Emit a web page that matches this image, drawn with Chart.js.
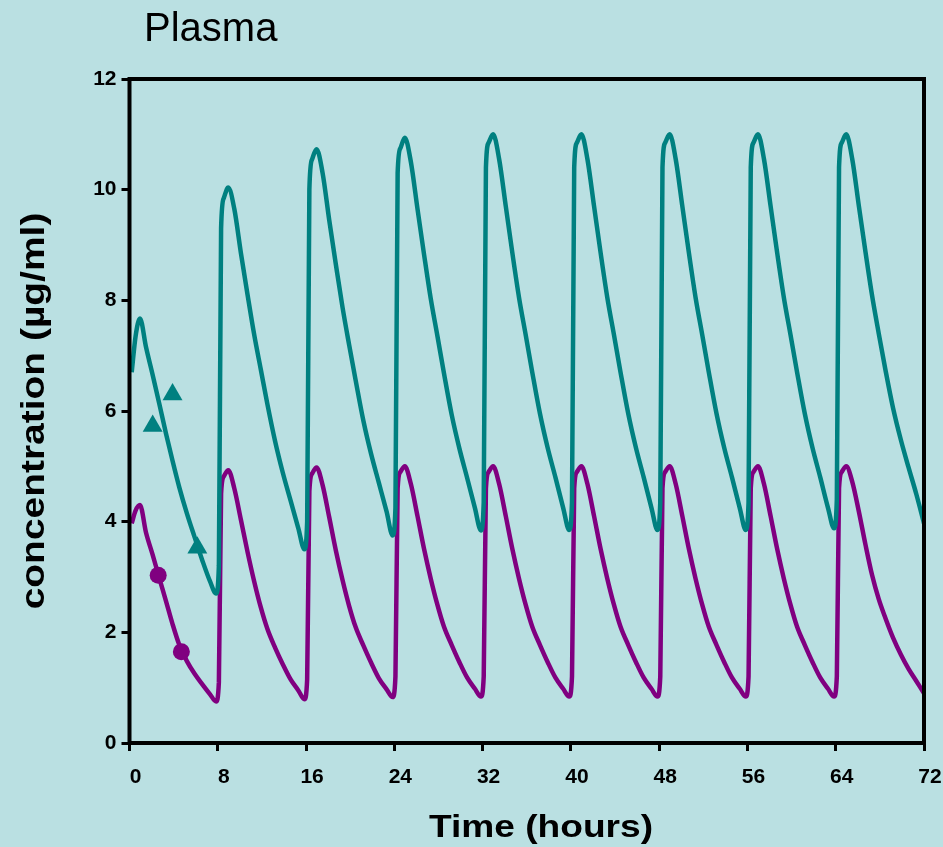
<!DOCTYPE html>
<html lang="en">
<head>
    <meta charset="UTF-8">
    <title>Plasma</title>
    <script src="https://cdn.jsdelivr.net/npm/chart.js"></script>
    <style>
        html, body { margin: 0; padding: 0; background: #bae0e2; }
        #wrap { width: 943px; height: 847px; position: relative; }
    </style>
</head>
<body>
    <div id="wrap"><canvas id="plasmaChart"></canvas></div>

    <script>
        // time axis (hours) shared by both curves
        var hours = [0.2, 0.55, 0.95, 1.5, 2.1, 2.7, 3.3, 3.9, 4.5, 5.2, 5.9, 6.6, 7.3, 7.85,
            8.1, 8.3, 8.55, 8.95, 9.5, 10.1, 10.7, 11.3, 11.9, 12.5, 13.2, 13.9, 14.6, 15.3, 15.85,
            16.1, 16.3, 16.55, 16.95, 17.5, 18.1, 18.7, 19.3, 19.9, 20.5, 21.2, 21.9, 22.6, 23.3, 23.85,
            24.1, 24.3, 24.55, 24.95, 25.5, 26.1, 26.7, 27.3, 27.9, 28.5, 29.2, 29.9, 30.6, 31.3, 31.85,
            32.1, 32.3, 32.55, 32.95, 33.5, 34.1, 34.7, 35.3, 35.9, 36.5, 37.2, 37.9, 38.6, 39.3, 39.85,
            40.1, 40.3, 40.55, 40.95, 41.5, 42.1, 42.7, 43.3, 43.9, 44.5, 45.2, 45.9, 46.6, 47.3, 47.85,
            48.1, 48.3, 48.55, 48.95, 49.5, 50.1, 50.7, 51.3, 51.9, 52.5, 53.2, 53.9, 54.6, 55.3, 55.85,
            56.1, 56.3, 56.55, 56.95, 57.5, 58.1, 58.7, 59.3, 59.9, 60.5, 61.2, 61.9, 62.6, 63.3, 63.85,
            64.1, 64.3, 64.55, 64.95, 65.5, 66.1, 66.7, 67.3, 67.9, 68.5, 69.2, 69.9, 70.6, 71.3, 72];

        // upper (teal) curve, ug/ml
        var tealConc = [6.7, 7.35, 7.67, 7.15, 6.65, 6.13, 5.6, 5.1, 4.63, 4.15, 3.72, 3.3, 2.92, 2.7,
            3.2, 9.3, 9.85, 10.04, 9.65, 8.85, 8.1, 7.38, 6.75, 6.12, 5.45, 4.88, 4.38, 3.88, 3.5,
            4.0, 10.0, 10.55, 10.73, 10.3, 9.45, 8.65, 7.88, 7.2, 6.55, 5.82, 5.22, 4.7, 4.18, 3.75,
            4.25, 10.3, 10.75, 10.94, 10.5, 9.65, 8.82, 8.03, 7.36, 6.68, 5.93, 5.32, 4.79, 4.25, 3.84,
            4.35, 10.4, 10.85, 11.0, 10.55, 9.7, 8.85, 8.05, 7.38, 6.7, 5.95, 5.33, 4.8, 4.25, 3.85,
            4.35, 10.4, 10.85, 11.0, 10.55, 9.7, 8.85, 8.05, 7.38, 6.7, 5.95, 5.33, 4.8, 4.25, 3.85,
            4.35, 10.4, 10.85, 11.0, 10.55, 9.7, 8.85, 8.05, 7.38, 6.7, 5.95, 5.33, 4.8, 4.25, 3.85,
            4.35, 10.4, 10.85, 11.0, 10.55, 9.7, 8.85, 8.05, 7.38, 6.7, 5.95, 5.33, 4.8, 4.25, 3.88,
            4.4, 10.4, 10.85, 11.0, 10.55, 9.7, 8.87, 8.08, 7.4, 6.75, 6.05, 5.48, 4.98, 4.5, 3.97];

        // lower (purple) curve, ug/ml
        var purpleConc = [3.97, 4.2, 4.3, 3.8, 3.4, 2.98, 2.57, 2.15, 1.78, 1.48, 1.25, 1.06, 0.88, 0.75,
            1.1, 4.5, 4.82, 4.93, 4.6, 4.03, 3.45, 2.92, 2.45, 2.06, 1.72, 1.42, 1.15, 0.95, 0.79,
            1.15, 4.55, 4.87, 4.98, 4.66, 4.08, 3.48, 2.95, 2.48, 2.09, 1.76, 1.45, 1.17, 0.97, 0.83,
            1.2, 4.6, 4.9, 5.0, 4.68, 4.1, 3.5, 2.97, 2.5, 2.1, 1.77, 1.46, 1.18, 0.98, 0.84,
            1.2, 4.6, 4.9, 5.0, 4.68, 4.1, 3.5, 2.97, 2.5, 2.1, 1.77, 1.46, 1.18, 0.98, 0.84,
            1.2, 4.6, 4.9, 5.0, 4.68, 4.1, 3.5, 2.97, 2.5, 2.1, 1.77, 1.46, 1.18, 0.98, 0.84,
            1.2, 4.6, 4.9, 5.0, 4.68, 4.1, 3.5, 2.97, 2.5, 2.1, 1.77, 1.46, 1.18, 0.98, 0.84,
            1.2, 4.6, 4.9, 5.0, 4.68, 4.1, 3.5, 2.97, 2.5, 2.1, 1.77, 1.46, 1.18, 0.98, 0.84,
            1.2, 4.6, 4.9, 5.0, 4.72, 4.18, 3.58, 3.03, 2.6, 2.26, 1.9, 1.6, 1.34, 1.12, 0.9];

        // measured samples
        var triHours = [2.1, 3.9, 6.15];
        var triConc = [5.73, 6.3, 3.53];
        var dotHours = [2.6, 4.7];
        var dotConc = [3.03, 1.65];

        // axis ticks
        var xTicks = [0, 8, 16, 24, 32, 40, 48, 56, 64, 72];
        var yTicks = [0, 2, 4, 6, 8, 10, 12];

        var TEAL = '#008080';
        var PURPLE = '#800080';
        var BG = '#bae0e2';
        var FONT = '"Liberation Sans", Arial, sans-serif';

        function toPoints(xs, ys) {
            return xs.map(function (x, i) { return { x: x, y: ys[i] }; });
        }

        var decor = {
            id: 'decor',
            beforeDraw: function (chart) {
                var ctx = chart.ctx;
                ctx.save();
                ctx.fillStyle = BG;
                ctx.fillRect(0, 0, chart.width, chart.height);
                ctx.restore();
            },
            afterDraw: function (chart) {
                var ctx = chart.ctx;
                var a = chart.chartArea;
                ctx.save();
                // plot frame
                ctx.strokeStyle = '#000';
                ctx.lineWidth = 4;
                ctx.strokeRect(a.left, a.top, a.right - a.left, a.bottom - a.top);

                ctx.fillStyle = '#000';
                ctx.textBaseline = 'alphabetic';
                ctx.font = '40px ' + FONT;
                ctx.textAlign = 'left';
                ctx.fillText('Plasma', 144, 41);

                // x title (original is a bit wide, stretch it)
                ctx.save();
                ctx.translate(541, 837);
                ctx.scale(1.16, 1);
                ctx.font = 'bold 32px ' + FONT;
                ctx.textAlign = 'center';
                ctx.fillText('Time (hours)', 0, 0);
                ctx.restore();

                // y title
                ctx.save();
                ctx.translate(43.5, 411);
                ctx.rotate(-Math.PI / 2);
                ctx.scale(1.18, 1);
                ctx.font = 'bold 33px ' + FONT;
                ctx.textAlign = 'center';
                ctx.fillText('concentration (\u00b5g/ml)', 0, 0);
                ctx.restore();

                ctx.restore();
            }
        };

        var ctx = document.getElementById('plasmaChart').getContext('2d');
        var chart = new Chart(ctx, {
            type: 'scatter',
            data: {
                datasets: [{
                    label: 'samples upper',
                    data: toPoints(triHours, triConc),
                    pointStyle: 'triangle',
                    pointRadius: 11.5,
                    backgroundColor: TEAL,
                    borderColor: TEAL,
                    borderWidth: 0,
                    showLine: false
                }, {
                    label: 'samples lower',
                    data: toPoints(dotHours, dotConc),
                    pointStyle: 'circle',
                    pointRadius: 8.5,
                    backgroundColor: PURPLE,
                    borderColor: PURPLE,
                    borderWidth: 0,
                    showLine: false
                }, {
                    label: 'upper',
                    data: toPoints(hours, tealConc),
                    showLine: true,
                    borderColor: TEAL,
                    borderWidth: 4.5,
                    pointRadius: 0,
                    cubicInterpolationMode: 'monotone',
                    fill: false
                }, {
                    label: 'lower',
                    data: toPoints(hours, purpleConc),
                    showLine: true,
                    borderColor: PURPLE,
                    borderWidth: 4.5,
                    pointRadius: 0,
                    cubicInterpolationMode: 'monotone',
                    fill: false
                }]
            },
            options: {
                responsive: true,
                maintainAspectRatio: false,
                animation: false,
                layout: {
                    padding: { top: 79, right: 19, bottom: 0, left: 0 }
                },
                plugins: {
                    legend: { display: false },
                    tooltip: { enabled: false },
                    title: { display: false }
                },
                scales: {
                    x: {
                        type: 'linear',
                        min: 0,
                        max: 72,
                        afterBuildTicks: function (scale) {
                            scale.ticks = xTicks.map(function (v) { return { value: v }; });
                        },
                        afterFit: function (scale) {
                            scale.height = 104;
                            scale.paddingLeft = 0;
                            scale.paddingRight = 0;
                        },
                        border: { display: false },
                        grid: {
                            drawOnChartArea: false,
                            drawTicks: true,
                            tickLength: 8,
                            tickWidth: 3,
                            tickColor: '#000'
                        },
                        ticks: {
                            color: '#000',
                            font: { family: FONT, size: 21, weight: 'bold' },
                            padding: 14,
                            labelOffset: 6,
                            maxRotation: 0,
                            autoSkip: false
                        }
                    },
                    y: {
                        type: 'linear',
                        min: 0,
                        max: 12,
                        afterBuildTicks: function (scale) {
                            scale.ticks = yTicks.map(function (v) { return { value: v }; });
                        },
                        afterFit: function (scale) {
                            scale.width = 129.5;
                            scale.paddingTop = 0;
                            scale.paddingBottom = 0;
                        },
                        border: { display: false },
                        grid: {
                            drawOnChartArea: false,
                            drawTicks: true,
                            tickLength: 8,
                            tickWidth: 3,
                            tickColor: '#000'
                        },
                        ticks: {
                            color: '#000',
                            font: { family: FONT, size: 21, weight: 'bold' },
                            padding: 5,
                            autoSkip: false
                        }
                    }
                }
            },
            plugins: [decor]
        });
    </script>
</body>
</html>
